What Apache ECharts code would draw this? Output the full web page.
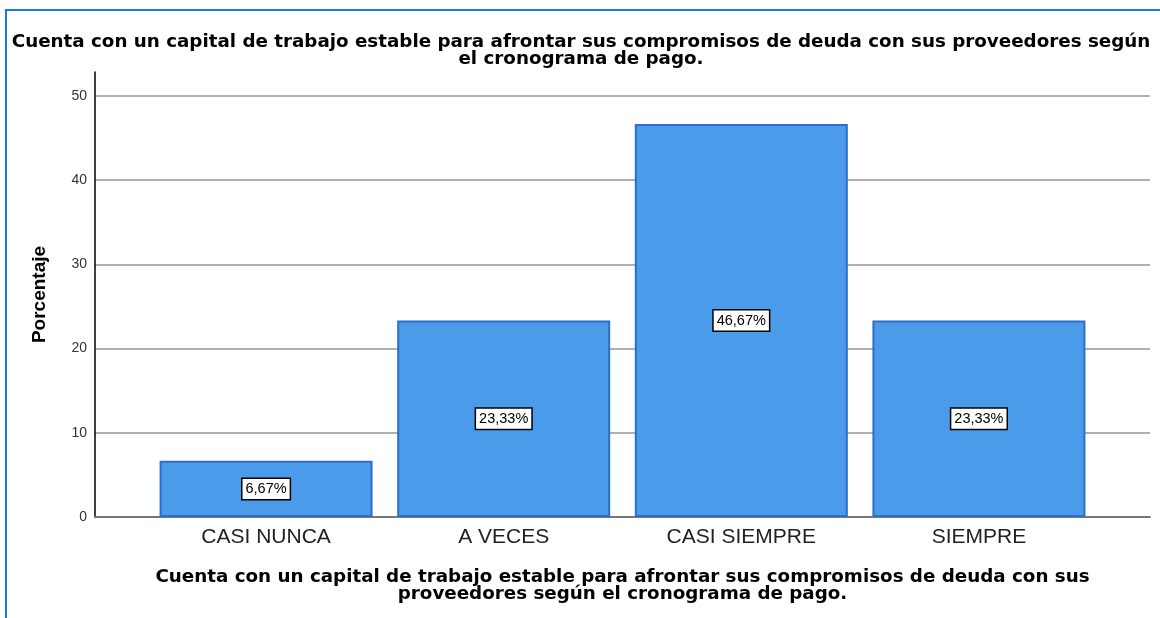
<!DOCTYPE html>
<html lang="es">
<head>
    <meta charset="utf-8">
    <title>Porcentaje - capital de trabajo</title>
    <script src="https://cdn.jsdelivr.net/npm/echarts@6/dist/echarts.min.js"></script>
    <style>
        body { margin: 0; background: #fff; }
        #chart { position: absolute; left: 0; top: 0; width: 1160px; height: 618px; }
        /* marco azul del visor */
        #marco { position: absolute; left: 5px; top: 9px; width: 1170px; height: 620px;
                 border-top: 2px solid #1f78d1; border-left: 2px solid #1f78d1; pointer-events: none; }
    </style>
</head>
<body>
    <div id="chart"></div>
    <div id="marco"></div>
    <script>
        var titulo = 'Cuenta con un capital de trabajo estable para afrontar sus compromisos de deuda con sus proveedores según\nel cronograma de pago.';
        var tituloEje = 'Cuenta con un capital de trabajo estable para afrontar sus compromisos de deuda con sus\nproveedores según el cronograma de pago.';
        var categorias = ['CASI NUNCA', 'A VECES', 'CASI SIEMPRE', 'SIEMPRE'];
        var porcentajes = [6.67, 23.33, 46.67, 23.33];
        var ticksY = [0, 10, 20, 30, 40, 50];

        var datos = porcentajes.map(function (v, i) { return [i, v]; });

        var myChart = echarts.init(document.getElementById('chart'));
        var option = {
            animation: false,
            title: {
                text: titulo,
                left: 581,
                top: 34,
                padding: 0,
                textAlign: 'center',
                textStyle: { fontFamily: 'DejaVu Sans', fontWeight: 'bold', fontSize: 18.3, lineHeight: 17, color: '#000' }
            },
            grid: { left: 95, right: 10, top: 72, bottom: 101 },
            xAxis: {
                type: 'value',
                min: -0.72,
                max: 3.72,
                name: tituloEje,
                nameLocation: 'middle',
                nameGap: 52,
                nameTextStyle: { fontFamily: 'DejaVu Sans', fontWeight: 'bold', fontSize: 18.3, lineHeight: 17, color: '#000' },
                axisLine: { lineStyle: { color: '#777', width: 2 } },
                axisTick: { show: false },
                splitLine: { show: false },
                axisLabel: {
                    customValues: [0, 1, 2, 3],
                    formatter: function (v) { return categorias[Math.round(v)]; },
                    fontFamily: 'Liberation Sans', fontSize: 21, color: '#222', margin: 10
                }
            },
            yAxis: {
                type: 'value',
                min: 0,
                max: 52.85,
                name: 'Porcentaje',
                nameLocation: 'middle',
                nameRotate: 90,
                nameGap: 46,
                nameTextStyle: { fontFamily: 'Liberation Sans', fontWeight: 'bold', fontSize: 19, color: '#000' },
                axisLine: { show: true, onZero: false, lineStyle: { color: '#000', width: 1.5 } },
                axisTick: { show: false, customValues: ticksY },
                axisLabel: {
                    customValues: ticksY,
                    fontFamily: 'Liberation Sans', fontSize: 14, color: '#333', margin: 8
                },
                splitLine: { show: true, lineStyle: { color: '#b0b0b0', width: 2 } }
            },
            series: [{
                type: 'bar',
                data: datos,
                barWidth: 213,
                itemStyle: { color: '#4a9be9', borderColor: '#2b6fcc', borderWidth: 2 },
                label: {
                    show: true,
                    position: 'inside',
                    formatter: function (p) { return p.value[1].toFixed(2).replace('.', ',') + '%'; },
                    fontFamily: 'Liberation Sans', fontSize: 14.5, color: '#000',
                    backgroundColor: '#fff', borderColor: '#000', borderWidth: 1.5,
                    padding: [3, 3, 2, 3]
                }
            }]
        };
        myChart.setOption(option);
    </script>
</body>
</html>
